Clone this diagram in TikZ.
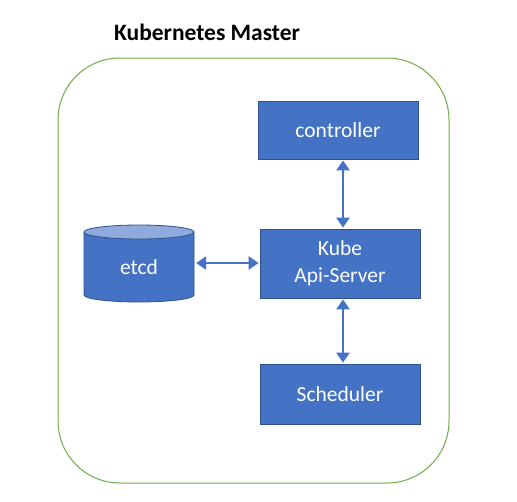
\documentclass[tikz,border=0pt]{standalone}
\usepackage{fontspec}
\setmainfont{Carlito}
\usetikzlibrary{arrows.meta}
\definecolor{boxblue}{HTML}{4472C4}
\definecolor{boxedge}{HTML}{2F528F}
\definecolor{toplight}{HTML}{8FAADC}
\definecolor{framegreen}{HTML}{70AD47}
\tikzset{
  x=1pt, y=-1pt,
  bluebox/.style={draw=boxedge, line width=0.8pt, fill=boxblue, text=white, font=\fontsize{21.5}{26.5}\selectfont, align=center, inner sep=0pt},
  link/.style={draw=boxblue, line width=2.6pt, {Triangle[width=13pt,length=10pt]}-{Triangle[width=13pt,length=10pt]}, shorten <=1pt, shorten >=1pt}
}
\begin{document}
\begin{tikzpicture}
\useasboundingbox (0,0) rectangle (517,501);
\fill[white] (0,0) rectangle (517,501);
% title
\node[font=\fontsize{23.5}{27}\selectfont\bfseries, anchor=center] (title) at (207,32) {Kubernetes Master};
% frame
\draw[framegreen, line width=1pt, rounded corners=62pt] (58,58) rectangle (449,483);
% boxes
\node[bluebox, minimum width=160pt, minimum height=58pt] (ctrl) at (338,130) {controller};
\node[bluebox, minimum width=160pt, minimum height=69pt] (api) at (340,263.5) {Kube\\Api-Server};
\node[bluebox, minimum width=160pt, minimum height=60pt] (sched) at (340,394) {Scheduler};
% etcd cylinder
\fill[boxblue] (84,232) -- (84,295) arc[start angle=180, end angle=360, x radius=55pt, y radius=7pt] -- (194,232) -- cycle;
\draw[boxedge, line width=0.8pt] (84,232) -- (84,295) arc[start angle=180, end angle=360, x radius=55pt, y radius=7pt] -- (194,232);
\draw[boxedge, line width=0.8pt, fill=toplight] (139,232) ellipse[x radius=55pt, y radius=7pt];
\node[inner sep=0pt, minimum width=110pt, minimum height=70pt, text=white, font=\fontsize{21.5}{26}\selectfont] (etcd) at (139,267) {etcd};
% connectors
\draw[link] (etcd.east) ++(1,-4) coordinate (e1) (e1) -- (api.west |- e1);
\draw[link] (api.north -| 343,0) coordinate (a1) (ctrl.south -| a1) -- (a1);
\draw[link] (api.south -| 343,0) coordinate (a2) (a2) -- (sched.north -| a2);
\end{tikzpicture}
\end{document}
